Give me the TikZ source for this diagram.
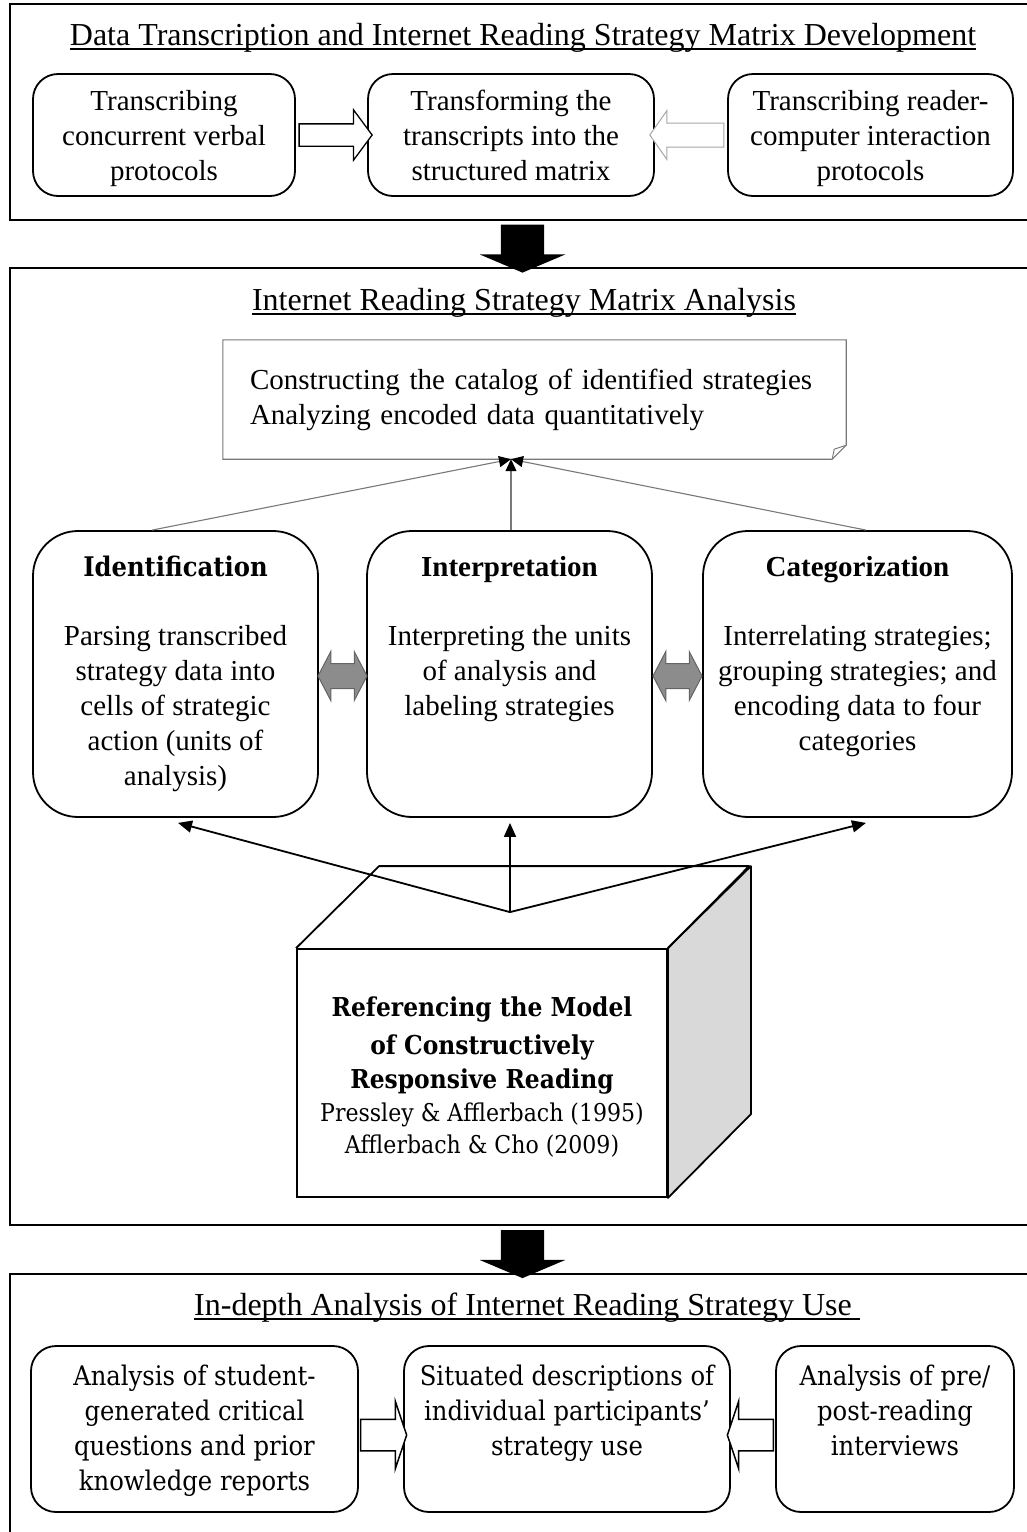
\documentclass[tikz,border=0pt]{standalone}
\usepackage{fontspec}
\setmainfont{Liberation Serif}
\newfontfamily\cambria[FakeStretch=0.9]{DejaVu Serif}
\usepackage{tikz}
\usetikzlibrary{positioning, arrows.meta, calc, shapes.arrows}
\definecolor{arrgray}{RGB}{140,140,140}
\definecolor{edgegray}{RGB}{100,100,100}
\definecolor{linegray}{RGB}{120,120,120}
\definecolor{sidegray}{RGB}{217,217,217}
\newcommand{\ulin}[1]{\setbox0\hbox{#1}\rlap{\rule[-5pt]{\wd0}{1.8pt}}\box0}
\newcommand{\cubehead}{\cambria\bfseries\fontsize{26}{35}\selectfont}

\begin{document}
\begin{tikzpicture}[x=1pt, y=-1pt,
        every node/.style={font=\fontsize{29}{35}\selectfont},
        frame/.style={draw, line width=2pt, minimum width=1027pt, anchor=north west, inner sep=0pt},
        title/.style={anchor=base, font=\fontsize{32}{38}\selectfont},
        rbox/.style={draw, line width=1.8pt, rounded corners=25pt, inner sep=0pt},
        bigbox/.style={draw, line width=1.8pt, rounded corners=45pt, minimum height=286pt},
        txt/.style={align=center, inner sep=0pt},
        ctxt/.style={align=center, inner sep=0pt, font=\cambria\fontsize{27}{35}\selectfont},
        blockarr/.style={single arrow, draw, fill=white, inner xsep=0pt},
        downarr/.style={single arrow, fill=black, inner xsep=0pt, inner ysep=21.5pt, single arrow head extend=21pt, single arrow tip angle=134, minimum height=48pt, rotate=-90},
        dblarr/.style={double arrow, draw=edgegray, fill=arrgray, line width=1pt, inner xsep=0pt, inner ysep=12pt, double arrow head extend=12pt, double arrow tip angle=125, minimum height=49pt},
        grayarr/.style={draw=linegray, line width=1.1pt, -{Triangle[length=12pt, width=11pt, color=black]}},
        blackarr/.style={line width=1.8pt, -{Triangle[length=14pt, width=12pt]}}]
      \useasboundingbox (0,0) rectangle (1026,1532);

      % frames
      \node[frame, minimum height=216pt] (topframe) at (9,3) {};
      \node[frame, minimum height=957pt] (midframe) at (9,267) {};
      \node[frame, minimum height=280pt] (botframe) at (9,1273) {};

      % data transcription
      \node[title] (toptitle) at (523,45) {\ulin{Data Transcription and Internet Reading Strategy Matrix Development}};
      \node[rbox, minimum width=262pt, minimum height=122pt] (verbal) at (164,135) {};
      \node[rbox, minimum width=286pt, minimum height=122pt] (matrix) at (511,135) {};
      \node[rbox, minimum width=285pt, minimum height=122pt] (rci) at (870.5,135) {};
      \node[txt, below=17pt of verbal.north] (verbaltxt) {Transcribing\\concurrent verbal\\protocols};
      \node[txt, below=17pt of matrix.north] (matrixtxt) {Transforming the\\transcripts into the\\structured matrix};
      \node[txt, below=17pt of rci.north] (rcitxt) {Transcribing reader-\\computer interaction\\protocols};
      \node[blockarr, line width=1.3pt, inner ysep=10.5pt, single arrow head extend=14pt, single arrow tip angle=107, minimum height=73pt] (a1) at ($(verbal.east)!0.5!(matrix.west)$) {};
      \node[blockarr, draw=gray!70, line width=1pt, inner ysep=11.5pt, single arrow head extend=12.5pt, single arrow tip angle=110, minimum height=74pt, rotate=180] (a2) at ($(rci.west)!0.5!(matrix.east)$) {};

      \node[downarr] (d1) at ($(topframe.south)!0.5!(midframe.north)+(-1,0)$) {};

      % matrix analysis
      \node[title] (midtitle) at (524,310) {\ulin{Internet Reading Strategy Matrix Analysis}};
      \node[txt, align=left, text width=569pt, inner xsep=27pt, minimum width=623pt, minimum height=119pt] (cat) at (534.5,399.5) {Constructing the catalog of identified strategies\\Analyzing encoded data quantitatively};
      \draw[linegray, line width=1.1pt] (cat.north west) -- (cat.north east) -- ($(cat.south east)+(0,-14)$) -- ($(cat.south east)+(-14,0)$) -- (cat.south west) -- cycle;
      \draw[linegray, line width=0.9pt] ($(cat.south east)+(0,-14)$) -- ($(cat.south east)+(-12,-10)$) -- ($(cat.south east)+(-14,0)$);
      \coordinate (catin) at ($(cat.south)+(-23.5,0)$);

      \node[bigbox, minimum width=285pt] (ident) at (175.5,674) {};
      \node[bigbox, minimum width=285pt] (interp) at (509.5,674) {};
      \node[bigbox, minimum width=309pt] (categ) at (857.5,674) {};
      \node[txt, below=26pt of ident.north] (identtxt) {{\cambria\bfseries\fontsize{27}{35}\selectfont Identification}\\[34pt]Parsing transcribed\\strategy data into\\cells of strategic\\action (units of\\analysis)};
      \node[txt, below=26pt of interp.north] (interptxt) {\textbf{Interpretation}\\[34pt]Interpreting the units\\of analysis and\\labeling strategies};
      \node[txt, below=26pt of categ.north] (categtxt) {\textbf{Categorization}\\[34pt]Interrelating strategies;\\grouping strategies; and\\encoding data to four\\categories};
      \node[dblarr] (b1) at ($(ident.east)!0.5!(interp.west)+(0,2)$) {};
      \node[dblarr] (b2) at ($(interp.east)!0.5!(categ.west)+(0,2)$) {};

      \draw[grayarr] ($(ident.north)+(-23.5,0)$) -- (catin);
      \draw[grayarr] ($(interp.north)+(1.5,0)$) -- (catin);
      \draw[grayarr] ($(categ.north)+(8.5,0)$) -- (catin);

      % model box
      \node[draw, line width=1.8pt, minimum width=370pt, minimum height=248pt, inner sep=0pt] (cube) at (482,1073) {};
      \node[txt, font=\cambria\fontsize{24.5}{35}\selectfont] (cubetxt) at ($(cube.center)+(0,4)$)
        {{\cubehead Referencing the Model}\\[3pt]{\cubehead of Constructively}\\[-1pt]{\cubehead Responsive Reading}\\[-2pt]Pressley \& Afflerbach (1995)\\[-3pt]Afflerbach \& Cho (2009)};
      \filldraw[fill=sidegray, line width=1.8pt, line join=round] (cube.north east) -- ++(83,-82) -- ++(0,248) -- (cube.south east) -- cycle;
      \draw[line width=1.8pt, line join=round] (cube.north west) -- ++(83,-82) -- ++(370,0) -- (cube.north east);
      \coordinate (cubetop) at ($(cube.north)+(28,-36)$);
      \draw[blackarr] (cubetop) -- ($(ident.south)+(2.5,5)$);
      \draw[blackarr] (cubetop) -- ($(interp.south)+(0.5,5)$);
      \draw[blackarr] (cubetop) -- ($(categ.south)+(8.5,5)$);

      \node[downarr] (d2) at ($(midframe.south)!0.5!(botframe.north)+(-1,0)$) {};

      % in-depth analysis
      \node[title] (bottitle) at (527,1315) {\ulin{In-depth Analysis of Internet Reading Strategy Use\ }};
      \node[rbox, minimum width=327pt, minimum height=166pt] (stuq) at (194.5,1429) {};
      \node[rbox, minimum width=326pt, minimum height=166pt] (sit) at (567,1429) {};
      \node[rbox, minimum width=238pt, minimum height=166pt] (intv) at (895,1429) {};
      \node[ctxt, below=19.5pt of stuq.north] (stuqtxt) {Analysis of student-\\generated critical\\questions and prior\\knowledge reports};
      \node[ctxt, below=19.5pt of sit.north] (sittxt) {Situated descriptions of\\individual participants’\\strategy use};
      \node[ctxt, below=19.5pt of intv.north] (intvtxt) {Analysis of pre/\\post-reading\\interviews};
      \node[blockarr, line width=1.5pt, inner ysep=15pt, single arrow head extend=18pt, single arrow tip angle=143, minimum height=46pt] (c1) at ($(stuq.east)!0.5!(sit.west)+(0,6)$) {};
      \node[blockarr, line width=1.5pt, inner ysep=15pt, single arrow head extend=18pt, single arrow tip angle=143, minimum height=46pt, rotate=180] (c2) at ($(intv.west)!0.5!(sit.east)+(0,6)$) {};
\end{tikzpicture}
\end{document}
